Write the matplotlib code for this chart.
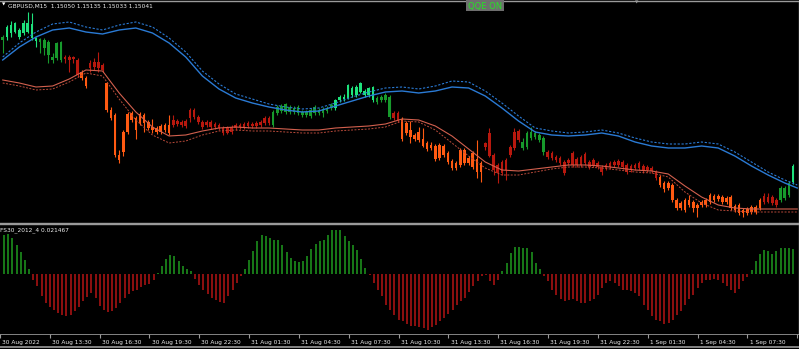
import matplotlib
matplotlib.use("Agg")
import matplotlib.pyplot as plt
import matplotlib.transforms as mtransforms
from matplotlib.lines import Line2D
from matplotlib.patches import Rectangle
import numpy as np

# GBPUSD M15 bars, 30 Aug 2022 10:45 onwards (one value per bar)
open_ = [
    1.1640, 1.1643, 1.1647, 1.1648, 1.1643, 1.1647, 1.1648, 1.1642, 1.1639, 1.1638,
    1.1632, 1.1625, 1.1620, 1.1622, 1.1620, 1.1623, 1.1623, 1.1623, 1.1620, 1.1608,
    1.1602, 1.1617, 1.1618, 1.1618, 1.1615, 1.1597, 1.1570, 1.1565, 1.1525, 1.1548,
    1.1566, 1.1567, 1.1562, 1.1566, 1.1565, 1.1558, 1.1553, 1.1552, 1.1554, 1.1555,
    1.1555, 1.1560, 1.1559, 1.1558, 1.1559, 1.1570, 1.1570, 1.1563, 1.1558, 1.1558,
    1.1558, 1.1556, 1.1555, 1.1552, 1.1552, 1.1553, 1.1555, 1.1555, 1.1556, 1.1557,
    1.1556, 1.1557, 1.1558, 1.1562, 1.1562, 1.1555, 1.1567, 1.1569, 1.1568, 1.1568,
    1.1568, 1.1567, 1.1565, 1.1565, 1.1564, 1.1567, 1.1567, 1.1567, 1.1569, 1.1572,
    1.1572, 1.1580, 1.1581, 1.1582, 1.1585, 1.1585, 1.1588, 1.1585, 1.1585, 1.1580,
    1.1578, 1.1580, 1.1580, 1.1563, 1.1567, 1.1567, 1.1561, 1.1557, 1.1550, 1.1545,
    1.1548, 1.1541, 1.1537, 1.1535, 1.1534, 1.1535, 1.1534, 1.1527, 1.1519, 1.1517,
    1.1530, 1.1530, 1.1522, 1.1527, 1.1521, 1.1517, 1.1537, 1.1547, 1.1525, 1.1515,
    1.1518, 1.1520, 1.1533, 1.1548, 1.1549, 1.1532, 1.1533, 1.1542, 1.1543, 1.1540,
    1.1528, 1.1528, 1.1527, 1.1523, 1.1522, 1.1518, 1.1520, 1.1527, 1.1521, 1.1523,
    1.1526, 1.1518, 1.1520, 1.1517, 1.1513, 1.1515, 1.1517, 1.1518, 1.1519, 1.1518,
    1.1515, 1.1514, 1.1515, 1.1517, 1.1514, 1.1513, 1.1512, 1.1508, 1.1503, 1.1497,
    1.1497, 1.1495, 1.1480, 1.1477, 1.1480, 1.1480, 1.1478, 1.1475, 1.1478, 1.1480,
    1.1485, 1.1484, 1.1484, 1.1483, 1.1482, 1.1483, 1.1474, 1.1475, 1.1470, 1.1471,
    1.1473, 1.1473, 1.1480, 1.1484, 1.1483, 1.1483, 1.1480, 1.1480, 1.1482, 1.1485,
    1.1498,
]
high = [
    1.1645, 1.1655, 1.1659, 1.1658, 1.1652, 1.1660, 1.1668, 1.1667, 1.1643, 1.1642,
    1.1642, 1.1640, 1.1627, 1.1638, 1.1639, 1.1625, 1.1625, 1.1624, 1.1622, 1.1610,
    1.1604, 1.1620, 1.1622, 1.1628, 1.1617, 1.1598, 1.1573, 1.1567, 1.1530, 1.1550,
    1.1568, 1.1569, 1.1564, 1.1568, 1.1567, 1.1560, 1.1561, 1.1554, 1.1556, 1.1557,
    1.1565, 1.1565, 1.1561, 1.1560, 1.1561, 1.1572, 1.1572, 1.1565, 1.1560, 1.1560,
    1.1560, 1.1558, 1.1557, 1.1554, 1.1554, 1.1555, 1.1557, 1.1557, 1.1558, 1.1559,
    1.1558, 1.1559, 1.1560, 1.1564, 1.1564, 1.1570, 1.1575, 1.1576, 1.1577, 1.1575,
    1.1574, 1.1575, 1.1570, 1.1570, 1.1572, 1.1575, 1.1572, 1.1573, 1.1574, 1.1577,
    1.1581, 1.1585, 1.1586, 1.1596, 1.1594, 1.1595, 1.1598, 1.1591, 1.1593, 1.1594,
    1.1584, 1.1585, 1.1587, 1.1585, 1.1569, 1.1569, 1.1563, 1.1559, 1.1559, 1.1547,
    1.1553, 1.1552, 1.1539, 1.1538, 1.1536, 1.1537, 1.1536, 1.1529, 1.1521, 1.1519,
    1.1532, 1.1532, 1.1524, 1.1529, 1.1540, 1.1519, 1.1538, 1.1552, 1.1527, 1.1517,
    1.1520, 1.1522, 1.1535, 1.1552, 1.1551, 1.1542, 1.1549, 1.1553, 1.1549, 1.1547,
    1.1544, 1.1530, 1.1529, 1.1525, 1.1524, 1.1520, 1.1522, 1.1529, 1.1523, 1.1525,
    1.1528, 1.1520, 1.1522, 1.1519, 1.1515, 1.1517, 1.1519, 1.1520, 1.1521, 1.1520,
    1.1517, 1.1516, 1.1517, 1.1519, 1.1516, 1.1515, 1.1514, 1.1510, 1.1505, 1.1499,
    1.1499, 1.1497, 1.1482, 1.1479, 1.1482, 1.1485, 1.1480, 1.1477, 1.1480, 1.1482,
    1.1487, 1.1486, 1.1486, 1.1485, 1.1484, 1.1485, 1.1476, 1.1477, 1.1472, 1.1473,
    1.1475, 1.1475, 1.1482, 1.1487, 1.1487, 1.1485, 1.1482, 1.1494, 1.1494, 1.1499,
    1.1516,
]
low = [
    1.1627, 1.1640, 1.1643, 1.1647, 1.1641, 1.1645, 1.1647, 1.1640, 1.1633, 1.1627,
    1.1625, 1.1617, 1.1617, 1.1620, 1.1618, 1.1617, 1.1608, 1.1617, 1.1603, 1.1600,
    1.1592, 1.1608, 1.1610, 1.1608, 1.1608, 1.1568, 1.1560, 1.1523, 1.1517, 1.1524,
    1.1546, 1.1558, 1.1541, 1.1555, 1.1548, 1.1550, 1.1547, 1.1546, 1.1546, 1.1548,
    1.1545, 1.1553, 1.1554, 1.1553, 1.1552, 1.1558, 1.1561, 1.1556, 1.1551, 1.1553,
    1.1551, 1.1551, 1.1550, 1.1545, 1.1546, 1.1546, 1.1550, 1.1551, 1.1551, 1.1552,
    1.1552, 1.1552, 1.1553, 1.1555, 1.1555, 1.1553, 1.1565, 1.1567, 1.1566, 1.1566,
    1.1566, 1.1565, 1.1563, 1.1563, 1.1562, 1.1565, 1.1565, 1.1563, 1.1567, 1.1570,
    1.1570, 1.1578, 1.1579, 1.1581, 1.1583, 1.1583, 1.1587, 1.1583, 1.1583, 1.1578,
    1.1576, 1.1578, 1.1578, 1.1561, 1.1560, 1.1558, 1.1539, 1.1545, 1.1537, 1.1539,
    1.1538, 1.1533, 1.1529, 1.1530, 1.1519, 1.1520, 1.1523, 1.1516, 1.1510, 1.1510,
    1.1513, 1.1515, 1.1515, 1.1511, 1.1502, 1.1498, 1.1530, 1.1523, 1.1505, 1.1497,
    1.1505, 1.1500, 1.1523, 1.1530, 1.1538, 1.1530, 1.1531, 1.1540, 1.1541, 1.1538,
    1.1525, 1.1521, 1.1520, 1.1518, 1.1515, 1.1505, 1.1515, 1.1513, 1.1513, 1.1513,
    1.1515, 1.1511, 1.1513, 1.1511, 1.1505, 1.1510, 1.1511, 1.1513, 1.1513, 1.1511,
    1.1506, 1.1508, 1.1510, 1.1510, 1.1507, 1.1508, 1.1507, 1.1500, 1.1493, 1.1488,
    1.1490, 1.1478, 1.1470, 1.1470, 1.1468, 1.1473, 1.1468, 1.1463, 1.1473, 1.1473,
    1.1476, 1.1478, 1.1479, 1.1476, 1.1476, 1.1470, 1.1468, 1.1465, 1.1463, 1.1465,
    1.1466, 1.1466, 1.1470, 1.1476, 1.1477, 1.1475, 1.1473, 1.1478, 1.1480, 1.1483,
    1.1496,
]
close = [
    1.1643, 1.1653, 1.1655, 1.1657, 1.1650, 1.1657, 1.1657, 1.1656, 1.1642, 1.1641,
    1.1640, 1.1638, 1.1623, 1.1637, 1.1638, 1.1621, 1.1620, 1.1621, 1.1605, 1.1602,
    1.1594, 1.1612, 1.1613, 1.1612, 1.1610, 1.1570, 1.1562, 1.1525, 1.1520, 1.1528,
    1.1548, 1.1560, 1.1550, 1.1557, 1.1557, 1.1552, 1.1550, 1.1548, 1.1548, 1.1550,
    1.1547, 1.1555, 1.1556, 1.1555, 1.1554, 1.1562, 1.1563, 1.1558, 1.1553, 1.1555,
    1.1553, 1.1553, 1.1552, 1.1547, 1.1547, 1.1548, 1.1552, 1.1553, 1.1553, 1.1554,
    1.1554, 1.1554, 1.1555, 1.1557, 1.1557, 1.1568, 1.1573, 1.1574, 1.1576, 1.1573,
    1.1572, 1.1573, 1.1568, 1.1568, 1.1570, 1.1573, 1.1570, 1.1571, 1.1572, 1.1575,
    1.1580, 1.1583, 1.1583, 1.1595, 1.1592, 1.1593, 1.1597, 1.1589, 1.1592, 1.1593,
    1.1582, 1.1583, 1.1585, 1.1583, 1.1562, 1.1560, 1.1541, 1.1547, 1.1543, 1.1541,
    1.1540, 1.1534, 1.1531, 1.1532, 1.1521, 1.1522, 1.1525, 1.1518, 1.1512, 1.1512,
    1.1515, 1.1517, 1.1517, 1.1513, 1.1508, 1.1508, 1.1533, 1.1524, 1.1510, 1.1507,
    1.1507, 1.1510, 1.1525, 1.1532, 1.1540, 1.1538, 1.1547, 1.1548, 1.1547, 1.1545,
    1.1542, 1.1523, 1.1522, 1.1520, 1.1517, 1.1507, 1.1517, 1.1515, 1.1515, 1.1515,
    1.1517, 1.1513, 1.1515, 1.1513, 1.1508, 1.1512, 1.1513, 1.1515, 1.1515, 1.1513,
    1.1508, 1.1510, 1.1512, 1.1512, 1.1509, 1.1510, 1.1509, 1.1502, 1.1495, 1.1491,
    1.1492, 1.1480, 1.1472, 1.1472, 1.1470, 1.1475, 1.1472, 1.1472, 1.1475, 1.1475,
    1.1478, 1.1480, 1.1481, 1.1478, 1.1478, 1.1472, 1.1470, 1.1467, 1.1467, 1.1467,
    1.1468, 1.1468, 1.1472, 1.1478, 1.1478, 1.1477, 1.1475, 1.1492, 1.1492, 1.1497,
    1.1514,
]
# candle colour state: G strong up, g up, O strong down, r down
state = list(
    "gGGGGGGGG" "gggggg" "rrrr" "OO" "rrrr" "OOOOOOOOOOOOOOOO"
    "rrrrrrrrrrrrrrrrrrrrrrrr" "ggggggggggggggg" "GGGGGGGGGG" "gggg" "rr"
    "OOOOOOOOOOOOOOOOOOOO" "rrrrrrrrr" "gggggg" "rrrrrrrrrrrrrrrrrrrrrrrrrrr"
    "OOOOOOOOOOOOOOOOOOOOOOOOO" "rrrr" "ggg" "G"
)

# FS30_2012_4 oscillator
osc = [
    0.0335, 0.0344, 0.0310, 0.0249, 0.0189, 0.0120, 0.0043, -0.0052, -0.0103, -0.0189,
    -0.0249, -0.0284, -0.0310, -0.0335, -0.0353, -0.0361, -0.0353, -0.0318, -0.0284, -0.0232,
    -0.0198, -0.0163, -0.0206, -0.0275, -0.0310, -0.0327, -0.0318, -0.0292, -0.0249, -0.0206,
    -0.0172, -0.0146, -0.0138, -0.0112, -0.0095, -0.0086, -0.0052, 0.0009, 0.0069, 0.0129,
    0.0163, 0.0155, 0.0112, 0.0069, 0.0043, 0.0026, -0.0043, -0.0095, -0.0138, -0.0172,
    -0.0206, -0.0224, -0.0241, -0.0249, -0.0189, -0.0138, -0.0077, -0.0017, 0.0043, 0.0120,
    0.0198, 0.0284, 0.0335, 0.0327, 0.0310, 0.0292, 0.0292, 0.0249, 0.0189, 0.0138,
    0.0112, 0.0103, 0.0112, 0.0155, 0.0215, 0.0258, 0.0284, 0.0292, 0.0335, 0.0378,
    0.0378, 0.0378, 0.0327, 0.0284, 0.0249, 0.0206, 0.0129, 0.0052, -0.0009, -0.0077,
    -0.0138, -0.0189, -0.0267, -0.0310, -0.0353, -0.0396, -0.0404, -0.0430, -0.0447, -0.0447,
    -0.0456, -0.0464, -0.0482, -0.0456, -0.0439, -0.0404, -0.0378, -0.0344, -0.0310, -0.0267,
    -0.0232, -0.0206, -0.0155, -0.0103, -0.0060, -0.0017, -0.0009, -0.0060, -0.0095, -0.0052,
    0.0026, 0.0095, 0.0181, 0.0232, 0.0232, 0.0224, 0.0224, 0.0189, 0.0095, 0.0043,
    -0.0017, -0.0060, -0.0138, -0.0181, -0.0215, -0.0232, -0.0224, -0.0215, -0.0232, -0.0249,
    -0.0249, -0.0232, -0.0215, -0.0181, -0.0120, -0.0077, -0.0060, -0.0077, -0.0103, -0.0138,
    -0.0138, -0.0146, -0.0163, -0.0189, -0.0267, -0.0310, -0.0361, -0.0396, -0.0404, -0.0430,
    -0.0421, -0.0396, -0.0353, -0.0318, -0.0267, -0.0215, -0.0181, -0.0120, -0.0077, -0.0052,
    -0.0052, -0.0043, -0.0052, -0.0077, -0.0103, -0.0138, -0.0163, -0.0129, -0.0060, -0.0026,
    0.0034, 0.0112, 0.0172, 0.0206, 0.0198, 0.0172, 0.0198, 0.0224, 0.0224, 0.0224,
    0.0215,
]

# moving average envelopes, read every 4th bar
ma_bars = list(range(0, 189, 4)) + [191]
blue_ma = [
    1.1620, 1.1633, 1.1643, 1.1650, 1.1652, 1.1648, 1.1646, 1.1650, 1.1652, 1.1647,
    1.1637, 1.1623, 1.1604, 1.1591, 1.1582, 1.1577, 1.1573, 1.1570, 1.1568, 1.1569,
    1.1574, 1.1579, 1.1584, 1.1588, 1.1589, 1.1587, 1.1589, 1.1593, 1.1592, 1.1584,
    1.1572, 1.1559, 1.1548, 1.1545, 1.1544, 1.1545, 1.1547, 1.1544, 1.1538, 1.1534,
    1.1532, 1.1532, 1.1534, 1.1532, 1.1524, 1.1514, 1.1505, 1.1497, 1.1492,
]
blue_band = [
    1.1623, 1.1637, 1.1648, 1.1656, 1.1658, 1.1653, 1.1650, 1.1655, 1.1658, 1.1653,
    1.1642, 1.1628, 1.1609, 1.1596, 1.1586, 1.1581, 1.1576, 1.1573, 1.1571, 1.1572,
    1.1577, 1.1583, 1.1588, 1.1592, 1.1593, 1.1591, 1.1594, 1.1599, 1.1598, 1.1589,
    1.1577, 1.1564, 1.1552, 1.1549, 1.1547, 1.1548, 1.1550, 1.1547, 1.1542, 1.1538,
    1.1536, 1.1536, 1.1538, 1.1536, 1.1528, 1.1518, 1.1508, 1.1500, 1.1495,
]
red_ma = [
    1.1600, 1.1597, 1.1593, 1.1594, 1.1601, 1.1610, 1.1609, 1.1587, 1.1568, 1.1553,
    1.1544, 1.1545, 1.1549, 1.1552, 1.1553, 1.1552, 1.1552, 1.1551, 1.1550, 1.1550,
    1.1552, 1.1553, 1.1554, 1.1556, 1.1561, 1.1560, 1.1554, 1.1544, 1.1531, 1.1518,
    1.1510, 1.1509, 1.1511, 1.1513, 1.1515, 1.1515, 1.1514, 1.1512, 1.1510, 1.1509,
    1.1506, 1.1494, 1.1483, 1.1475, 1.1472, 1.1471, 1.1471, 1.1471, 1.1471,
]
red_band = [
    1.1597, 1.1594, 1.1590, 1.1591, 1.1598, 1.1607, 1.1604, 1.1581, 1.1560, 1.1545,
    1.1537, 1.1539, 1.1545, 1.1549, 1.1550, 1.1549, 1.1549, 1.1548, 1.1547, 1.1547,
    1.1549, 1.1550, 1.1551, 1.1553, 1.1559, 1.1558, 1.1550, 1.1537, 1.1524, 1.1512,
    1.1505, 1.1505, 1.1508, 1.1511, 1.1513, 1.1513, 1.1512, 1.1510, 1.1508, 1.1507,
    1.1503, 1.1488, 1.1477, 1.1470, 1.1469, 1.1468, 1.1468, 1.1468, 1.1468,
]

tick_bars = [-1, 11, 23, 35, 47, 59, 71, 83, 95, 107, 119, 131, 143, 155, 167, 179, 191]
tick_labels = ["30 Aug 2022", "30 Aug 13:30", "30 Aug 16:30", "30 Aug 19:30",
               "30 Aug 22:30", "31 Aug 01:30", "31 Aug 04:30", "31 Aug 07:30",
               "31 Aug 10:30", "31 Aug 13:30", "31 Aug 16:30", "31 Aug 19:30",
               "31 Aug 22:30", "1 Sep 01:30", "1 Sep 04:30", "1 Sep 07:30", ""]

palette = {"G": "#1ee27c", "g": "#179a2c", "O": "#ff5a12", "r": "#b8180e"}
GRID = "#9a9a9a"
TXT = "#ececec"

plt.rcParams["font.family"] = ["DejaVu Sans"]

W, H = 799, 349
fig = plt.figure(figsize=(W / 100, H / 100), dpi=100, facecolor="black")

def rect(top, bottom):
    return [0, 1 - bottom / H, 1, (bottom - top) / H]

n = min(len(open_), len(high), len(low), len(close), len(state))
x = np.arange(n)
o = np.array(open_[:n])
c = np.array(close[:n])
cols = [palette[s] for s in state[:n]]
xlim = (-0.65, 191.42)

# price panel
ax = fig.add_axes(rect(1, 223))
ax.set_facecolor("black")
ax.set_xlim(*xlim)
ax.set_ylim(1.1457, 1.1679)
ax.vlines(x, low[:n], high[:n], colors=cols, linewidth=0.8)
body = np.maximum(np.abs(c - o), 0.00008)
ax.bar(x, body, bottom=np.minimum(o, c), width=0.62, color=cols, linewidth=0)
ax.plot(ma_bars, blue_ma, color="#2a7ad4", lw=1.0)
ax.plot(ma_bars, blue_band, color="#2a7ad4", lw=0.8, ls=(0, (2, 1.5)))
ax.plot(ma_bars, red_ma, color="#d2604e", lw=0.8)
ax.plot(ma_bars, red_band, color="#b84a3a", lw=0.7, ls=(0, (2, 1.5)))
ax.set_xticks([])
ax.set_yticks([])
ax.spines["left"].set_visible(False)
for side in ["top", "bottom", "right"]:
    ax.spines[side].set_color(GRID)
    ax.spines[side].set_linewidth(1.0)

# oscillator panel
ax2 = fig.add_axes(rect(224, 334))
ax2.set_facecolor("black")
ax2.set_xlim(*xlim)
ax2.set_ylim(-0.05134, 0.04326)
osc_a = np.array(osc[:n])
ocols = ["#1f9a1f" if v > 0 else "#b51414" for v in osc_a]
ax2.vlines(x[:len(osc_a)], 0, osc_a, colors=ocols, linewidth=1.1)
ax2.set_yticks([])
ax2.set_xticks(tick_bars)
ax2.set_xticklabels(tick_labels)
ax2.tick_params(axis="x", direction="out", length=3, width=0.8, color=GRID,
                labelcolor=TXT, labelsize=4.2, pad=1.2)
shift = mtransforms.ScaledTranslation(1.5 / 72, 0, fig.dpi_scale_trans)
for lab in ax2.get_xticklabels():
    lab.set_ha("left")
    lab.set_transform(lab.get_transform() + shift)
ax2.spines["left"].set_visible(False)
for side, lw in [("top", 1.0), ("right", 1.0), ("bottom", 0.6)]:
    ax2.spines[side].set_color(GRID)
    ax2.spines[side].set_linewidth(lw)

# window bottom line
fig.add_artist(Line2D([0, 1], [1 - 347 / H] * 2, transform=fig.transFigure,
                      color=GRID, lw=1.2))

# header texts
fig.text(2 / W, 1 - 5 / H, "\u25bc", color="white", fontsize=3.2, va="center", ha="left")
fig.text(8 / W, 1 - 6 / H, "GBPUSD,M15  1.15050 1.15135 1.15033 1.15041",
         color=TXT, fontsize=4.2, va="center", ha="left")
fig.text(0 / W, 1 - 230 / H, "FS30_2012_4 0.021467", color=TXT, fontsize=4.2,
         va="center", ha="left")
fig.text(637 / W, 1 - 3 / H, "\u25bc", color="#9a9a9a", fontsize=3.2, va="center", ha="center")

fig.add_artist(Rectangle((466 / W, 1 - 11 / H), 38 / W, 11 / H, transform=fig.transFigure,
                         facecolor="#6e6e6e", edgecolor="none"))
fig.text(485 / W, 1 - 6 / H, "QQE ON", color="#27e027", fontsize=6, va="center", ha="center")

fig.savefig("out.png", dpi=100, facecolor="black")
